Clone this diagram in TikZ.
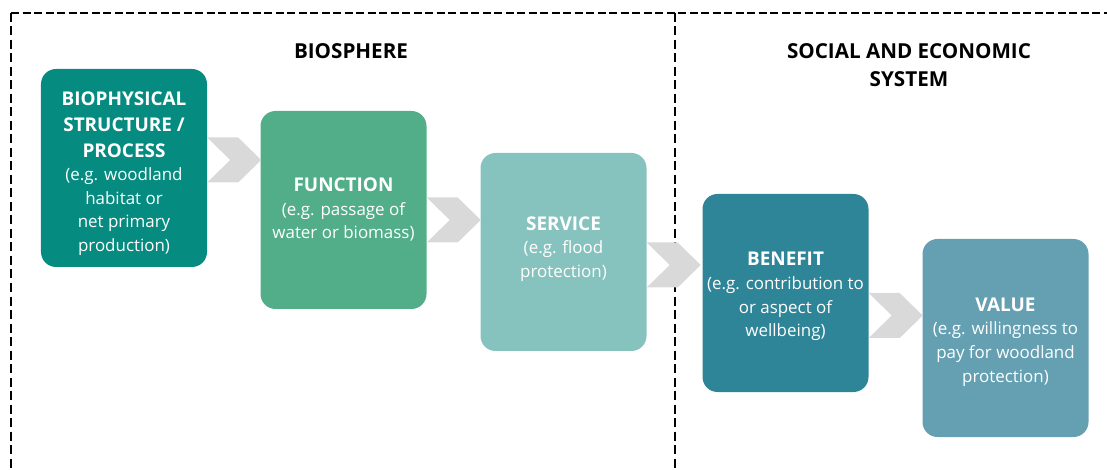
\documentclass[tikz,border=0pt]{standalone}
\usepackage{fontspec}
\setmainfont{Open Sans}
\definecolor{cA}{RGB}{6,139,128}
\definecolor{cB}{RGB}{82,174,137}
\definecolor{cC}{RGB}{134,195,190}
\definecolor{cD}{RGB}{46,133,151}
\definecolor{cE}{RGB}{100,160,178}
\definecolor{chevgray}{RGB}{217,217,217}
\newcommand{\ttl}[1]{{\fontsize{19}{26}\selectfont\bfseries #1}}
\begin{document}
\begin{tikzpicture}[x=1bp,y=-1bp,
  box/.style={rounded corners=15bp, minimum width=166bp, minimum height=198bp, inner sep=0pt},
  boxtext/.style={align=center, text=white, inner sep=0pt, font=\fontsize{17}{23.7}\selectfont},
  chev/.style={fill=chevgray, draw=none},
  hborder/.style={line width=2bp, dash pattern=on 8bp off 3.5bp},
  vborder/.style={line width=2bp, dash pattern=on 9bp off 4.5bp},
  hdr/.style={font=\fontsize{20.7}{28}\selectfont\bfseries, align=center, inner sep=0pt}]
\useasboundingbox (0,0) rectangle (1107,470);
% frame
\coordinate (tl) at (11,13);
\coordinate (tr) at (1107,13);
\coordinate (bl) at (11,470);
\coordinate (dt) at (675,13);
\coordinate (db) at (675,470);
\draw[hborder] (tl) -- (tr);
\draw[vborder] (tl) -- (bl);
\draw[vborder] (dt) -- (db);
% headers
\node[hdr, anchor=base] (h1) at (351,59) {BIOSPHERE};
\node[hdr, anchor=base] (h2) at (909,86.5) {SOCIAL AND ECONOMIC\\SYSTEM};
% boxes
\node[box, fill=cA] (b1) at (124,168) {};
\node[box, fill=cB] (b2) at (343.5,210) {};
\node[box, fill=cC] (b3) at (563.5,252) {};
\node[box, fill=cD] (b4) at (785.5,293) {};
\node[box, fill=cE] (b5) at (1005.5,338) {};
% box texts
\node[boxtext] (t1) at ([yshift=-5.5bp]b1.center) {\ttl{BIOPHYSICAL}\\[2.3bp]\ttl{STRUCTURE /}\\[2.3bp]\ttl{PROCESS}\\(e.g. woodland\\habitat or\\net primary\\production)};
\node[boxtext] (t2) at ([yshift=0.5bp]b2.center) {\ttl{FUNCTION}\\(e.g. passage of\\water or biomass)};
\node[boxtext] (t3) at ([yshift=3bp]b3.center) {\ttl{SERVICE}\\(e.g. flood\\protection)};
\node[boxtext] (t4) at ([yshift=-3.5bp]b4.center) {\ttl{BENEFIT}\\(e.g. contribution to\\or aspect of\\wellbeing)};
\node[boxtext] (t5) at ([yshift=-4bp]b5.center) {\ttl{VALUE}\\(e.g. willingness to\\pay for woodland\\protection)};
% chevrons
\fill[chev] (b1.east |- 0,160) ++(0,-22.5) -- ++(31,0) -- ++(23,22.5) -- ++(-23,22.5) -- ++(-31,0) -- ++(23,-22.5) -- cycle;
\fill[chev] (b2.east |- 0,220) ++(0,-22.5) -- ++(31,0) -- ++(23,22.5) -- ++(-23,22.5) -- ++(-31,0) -- ++(23,-22.5) -- cycle;
\fill[chev] (b3.east |- 0,265) ++(0,-22.5) -- ++(31,0) -- ++(23,22.5) -- ++(-23,22.5) -- ++(-31,0) -- ++(23,-22.5) -- cycle;
\fill[chev] (b4.east |- 0,315.5) ++(0,-22.5) -- ++(31,0) -- ++(23,22.5) -- ++(-23,22.5) -- ++(-31,0) -- ++(23,-22.5) -- cycle;
\end{tikzpicture}
\end{document}
